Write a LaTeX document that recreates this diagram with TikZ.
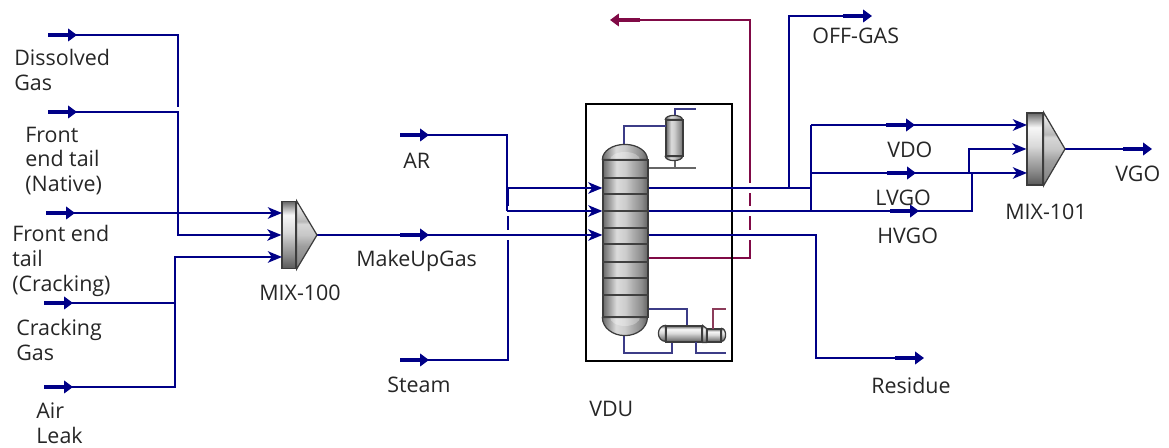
\documentclass[tikz,border=0pt]{standalone}
\usepackage{fontspec}
\setmainfont{Open Sans}
\usepackage{tikz}
\usetikzlibrary{arrows.meta,positioning}
\definecolor{streamblue}{RGB}{0,0,135}
\definecolor{streamred}{RGB}{128,10,70}
\definecolor{thinblue}{RGB}{60,60,135}
\definecolor{thinred}{RGB}{140,60,90}
\definecolor{vesseledge}{RGB}{60,60,60}
\pgfdeclarehorizontalshading{vesselshade}{100bp}{
rgb(0bp)=(.42,.42,.42); rgb(25bp)=(.42,.42,.42); rgb(32bp)=(.62,.62,.62); rgb(40bp)=(.86,.86,.86); rgb(50bp)=(.8,.8,.8);
rgb(58bp)=(.68,.68,.68); rgb(68bp)=(.55,.55,.55); rgb(75bp)=(.38,.38,.38); rgb(100bp)=(.38,.38,.38)}
\pgfdeclareverticalshading{mixdrum}{100bp}{
rgb(0bp)=(.35,.35,.35); rgb(25bp)=(.35,.35,.35); rgb(35bp)=(.55,.55,.55); rgb(45bp)=(.72,.72,.72); rgb(52bp)=(.85,.85,.85);
rgb(65bp)=(.97,.97,.97); rgb(70bp)=(.7,.7,.7); rgb(75bp)=(.4,.4,.4); rgb(100bp)=(.4,.4,.4)}
\pgfdeclareverticalshading{mixcone}{100bp}{
rgb(0bp)=(.5,.5,.5); rgb(25bp)=(.5,.5,.5); rgb(42bp)=(.62,.62,.62); rgb(50bp)=(.78,.78,.78); rgb(58bp)=(.84,.84,.84);
rgb(60bp)=(.72,.72,.72); rgb(75bp)=(.98,.98,.98); rgb(100bp)=(.98,.98,.98)}

\begin{document}
\begin{tikzpicture}[x=0.02cm,y=-0.02cm,
label/.style={inner sep=0pt,anchor=west,align=left,font=\fontsize{12.2}{14.2}\selectfont,text=black!85},
paths/.style={draw=streamblue,line width=1.3pt},
tpaths/.style={paths,-{Stealth[length=8pt,width=6.5pt,inset=2.2pt]}},
rpaths/.style={draw=streamred,line width=1.3pt},
gapline/.style={draw=white,line width=6.2pt},
marker/.style={draw=streamblue,line width=2.4pt,-{Triangle[length=5pt,width=7pt]}},
rmarker/.style={marker,draw=streamred},
tinb/.style={draw=thinblue,line width=.7pt},
tinr/.style={draw=thinred,line width=.7pt},
ting/.style={draw=black!60,line width=.7pt},
unitbox/.style={rectangle,draw=black,line width=1.3pt,inner sep=0pt,minimum width=2.92cm,minimum height=5.14cm},
vessel/.style={rectangle,draw=vesseledge,line width=.7pt,shade,shading=vesselshade,inner sep=0pt},
vcap/.style={draw=vesseledge,line width=.7pt,shade,shading=vesselshade},
hvessel/.style={rectangle,draw=vesseledge,line width=.7pt,shade,shading=mixdrum,inner sep=0pt},
hcap/.style={draw=vesseledge,line width=.7pt,shade,shading=mixdrum},
tray/.style={draw=black!75,line width=.8pt},
]
\useasboundingbox (0,0) rectangle (1169,448);

% stream start points
\foreach \vn/\vx/\vy in {DG/48/35, FN/48/112, FC/46/213, CG/44/303, AL/44/387, AR/400/135, MUG/400/235, ST/400/360, VDO/886/125, LVGO/887/173, HVGO/890/211, VGO/1123/149, OG/843/16, RES/895/358}
{
\coordinate (\vn) at (\vx,\vy);
\coordinate (\vn-m) at (\vx+29,\vy);
}
\coordinate (RED) at (640,20);
\coordinate (RED-m) at (610,20);

% bends and junctions
\coordinate (DGb) at (178,107);
\coordinate (FNb) at (178,235);
\coordinate (CGb) at (175,303);
\coordinate (ALb) at (175,257);
\coordinate (ARb) at (507,211);
\coordinate (STb) at (508,188);
\coordinate (RDb) at (750,258);
\coordinate (OGb) at (789,188);
\coordinate (VJ) at (811,188);
\coordinate (VJa) at (811,125);
\coordinate (VJb) at (811,173);
\coordinate (VJc) at (811,211);
\coordinate (HVb) at (972,211);
\coordinate (HVc) at (972,173);
\coordinate (LVb) at (969,173);
\coordinate (RSb) at (816,358);

% column and drums
\node [vessel,minimum width=.9cm,minimum height=3.14cm] (COL) at (625.5,238.5) {};
\node [vessel,minimum width=.34cm,minimum height=.72cm] (DRUM) at (674.5,138) {};
\node [hvessel,minimum width=.72cm,minimum height=.32cm] (REB) at (684,334) {};
\node [hvessel,minimum width=.28cm,minimum height=.26cm] (REBb) at (714,335.5) {};

% mixers
\foreach \vm/\vx/\vy/\vw/\vh/\vc/\vo in {M100/289/235/14/67/21/22, M101/1035/149/16/72/22/24}
{
\node [hvessel,minimum width=\vw*0.02cm,minimum height=\vh*0.02cm] (\vm) at (\vx,\vy) {};
\coordinate (\vm-out) at (\vx+\vw/2+\vc,\vy);
\coordinate (\vm-a) at (\vx-\vw/2,\vy-\vo);
\coordinate (\vm-b) at (\vx-\vw/2,\vy+\vo);
}

% crossed lines first
\draw [rpaths] (COL.east |- RDb) -- (RDb) |- (RED);
\draw [paths] (ST) -| (STb);
\draw [gapline] (ARb) -- (ARb -| COL.west);
\draw [gapline] (M100-out -| ARb) -- (M100-out -| COL.west);
\draw [gapline] (COL.east |- STb) -- (OGb);
\draw [gapline] (COL.east |- HVb) -- (HVb);
\draw [gapline] (COL.east |- M100-out) -- (M100-out -| RSb);

\node [unitbox] (VDUbox) at (659,232.5) {};

% feeds to MIX-100
\draw [paths] (DG) -| (DGb);
\draw [tpaths] (FN) -| (FNb) -- (M100.west);
\draw [tpaths] (FC) -- (M100-a);
\draw [paths] (CG) -- (CGb);
\draw [tpaths] (AL) -| (ALb) -- (M100-b);

% feeds to column
\draw [tpaths] (M100-out) -- (M100-out -| COL.west);
\draw [paths] (AR) -| (ARb);
\draw [tpaths] (ARb) -- (ARb -| COL.west);
\draw [tpaths] (STb) -- (STb -| COL.west);

% products
\draw [paths] (COL.east |- STb) -- (VJ);
\draw [paths] (OGb) |- (OG);
\draw [paths] (VJa) -- (VJc);
\draw [tpaths] (VJa) -- (M101-a);
\draw [tpaths] (VJb) -- (M101-b);
\draw [paths] (COL.east |- HVb) -- (HVb) -- (HVc);
\draw [tpaths] (LVb) |- (M101.west);
\draw [paths] (M101-out) -- (VGO);
\draw [paths] (COL.east |- M100-out) -| (RSb) -- (RES);

% thin lines of the unit
\coordinate (COLt) at (624,145);
\coordinate (COLu) at (624,335);
\coordinate (CDa) at (666,126);
\coordinate (CDb) at (675,116);
\coordinate (CDc) at (696,109);
\coordinate (CDd) at (675,160);
\coordinate (CDe) at (675,168);
\coordinate (CDf) at (696,168);
\coordinate (RBa) at (687,309);
\coordinate (RBb) at (672,353);
\coordinate (RBc) at (696,342);
\coordinate (RBd) at (726,353);
\coordinate (RBe) at (713,329);
\coordinate (RBf) at (726,309);
\draw [tinb] (COLt) |- (CDa);
\draw [tinb] (CDb) |- (CDc);
\draw [ting] (CDd) -- (CDe);
\draw [ting] (COL.east |- CDe) -- (CDf);
\draw [tinb] (COL.east |- RBa) -| (REB.north -| RBa);
\draw [tinb] (COLu) |- (RBb) -- (REB.south -| RBb);
\draw [tinb] (RBc) |- (RBd);
\draw [tinr] (RBe) |- (RBf);

% domes
\shade [vcap] (COL.north west) arc (180:360:22.5 and 15) -- cycle;
\shade [vcap] (COL.south west) arc (180:0:22.5 and 18) -- cycle;
\fill [white,opacity=.3] (610,160) arc (180:360:15 and 8) -- cycle;
\fill [white,opacity=.3] (610,317) arc (180:0:15 and 9) -- cycle;
\shade [vcap] (DRUM.north west) arc (180:360:8.5 and 4) -- cycle;
\shade [vcap] (DRUM.south west) arc (180:0:8.5 and 4) -- cycle;
\shade [hcap] (REB.north west) arc (270:90:7 and 8) -- cycle;
\shade [hcap] (REB.north east) -- (REBb.north west) -- (REBb.south west) -- (REB.south east) -- cycle;
\shade [hcap] (REBb.north east) arc (270:450:4 and 6.5) -- cycle;

% trays
\foreach \vt in {160,178,194,211,228,244,262,278,295,317}
{
\draw [tray] (COL.west |- 0,\vt) -- (COL.east |- 0,\vt);
}

% cones
\foreach \vm in {M100,M101}
{
\shade [draw=vesseledge,line width=.7pt,shading=mixcone] (\vm.north east) -- (\vm-out) -- (\vm.south east) -- cycle;
}

% flow markers
\foreach \vn in {DG,FN,FC,CG,AL,AR,MUG,ST,VDO,LVGO,HVGO,VGO,OG,RES}
{
\draw [marker] (\vn) -- (\vn-m);
}
\draw [rmarker] (RED) -- (RED-m);

% labels
\node [label] (LDG) at (14,70) {Dissolved\\Gas};
\node [label] (LFN) at (25,161) {Front\\end tail\\(Native)};
\node [label] (LFC) at (12,261) {Front end\\tail\\(Cracking)};
\node [label] (LCG) at (16,340) {Cracking\\Gas};
\node [label] (LAL) at (36,423) {Air\\Leak};
\node [label] (LM100) at (259,293) {MIX-100};
\node [label] (LMUG) at (356,261) {MakeUpGas};
\node [label] (LAR) at (403,161) {AR};
\node [label] (LST) at (387,385) {Steam};
\node [label] (LVDU) at (589,409) {VDU};
\node [label] (LOG) at (812,36) {OFF-GAS};
\node [label] (LVDO) at (887,150) {VDO};
\node [label] (LLVGO) at (875,198) {LVGO};
\node [label] (LHVGO) at (877,236) {HVGO};
\node [label] (LM101) at (1005,212) {MIX-101};
\node [label] (LVGO2) at (1115,174) {VGO};
\node [label] (LRES) at (871,385) {Residue};

\end{tikzpicture}
\end{document}
